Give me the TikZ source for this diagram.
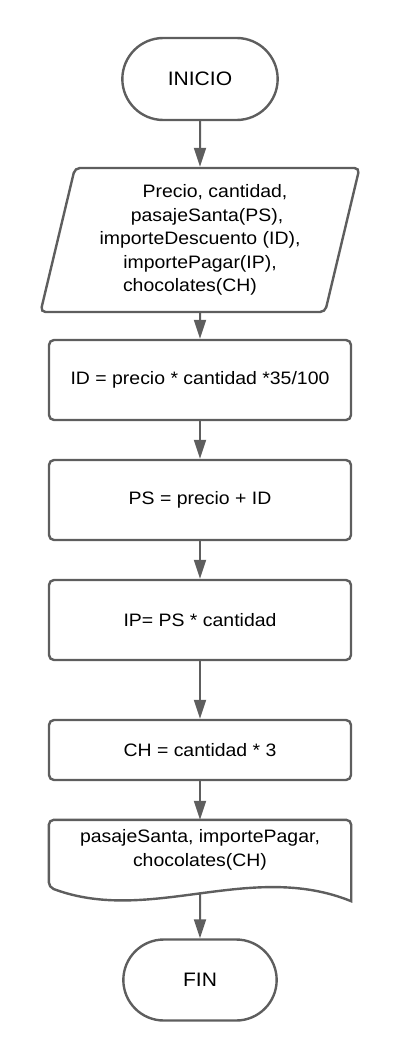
\documentclass[tikz,border=0pt]{standalone}
\usepackage{fontspec}
\setmainfont[FakeStretch=1.08]{Liberation Sans}
\usetikzlibrary{shapes.geometric,shapes.misc,arrows.meta,calc}
\definecolor{flowgray}{HTML}{5E5E5E}

\begin{document}
\begin{tikzpicture}[x=1pt,y=-1pt,
  every node/.style={font=\fontsize{18}{23.5}\selectfont,text=black},
  term/.style={draw=flowgray,line width=2.4pt,rounded rectangle,minimum width=162pt,minimum height=82pt,
    font=\fontsize{19.5}{23.5}\selectfont},
  io/.style={draw=flowgray,line width=2.4pt,trapezium,trapezium left angle=76,trapezium right angle=104,
    trapezium stretches=true,minimum width=320pt,minimum height=144pt,rounded corners=5pt,inner sep=0pt,align=center},
  proc/.style={draw=flowgray,line width=2.4pt,rounded corners=5pt,minimum width=302pt,minimum height=80pt},
  flow/.style={draw=flowgray,line width=2pt,-{Triangle[length=19pt,width=12pt]}}]
\useasboundingbox (0,0) rectangle (400,1060);
\node[term] (start) at (200,79) {INICIO};
\node[io] (read) at (200,240) {\hspace*{30pt}Precio, cantidad,\\
  \hspace*{14pt}pasajeSanta(PS),\\
  importeDescuento (ID),\\
  importePagar(IP),\hspace*{14pt}\\
  chocolates(CH)\hspace*{20pt}};
\node[proc] (calcID) at (200,380) {ID = precio * cantidad *35/100};
\node[proc] (calcPS) at (200,500) {PS = precio + ID};
\node[proc] (calcIP) at (200,620) {IP= PS * cantidad};
\node[proc,minimum height=60pt] (calcCH) at (200,750) {CH = cantidad * 3};
\node[minimum width=302pt,minimum height=60pt,align=center] (show) at (200,850) {pasajeSanta, importePagar,\\chocolates(CH)};
\draw[flowgray,line width=2.4pt] ($(show.south east)+(0,21)$) [rounded corners=5pt] -- (show.north east)
  -- (show.north west) -- ($(show.south west)+(0,7)$) [sharp corners]
  .. controls ($(show.south)+(-50,45)$) and ($(show.south)+(50,-20)$) .. cycle;
\coordinate (showtail) at ($(show.south)+(0,13)$);
\node[term,minimum width=160pt,minimum height=81pt] (end) at (200,980) {FIN};
\draw[flow] (start) -- (read);
\draw[flow] (read) -- (calcID);
\draw[flow] (calcID) -- (calcPS);
\draw[flow] (calcPS) -- (calcIP);
\draw[flow] (calcIP) -- (calcCH);
\draw[flow] (calcCH) -- (show);
\draw[flow] (showtail) -- (end);
\end{tikzpicture}
\end{document}
